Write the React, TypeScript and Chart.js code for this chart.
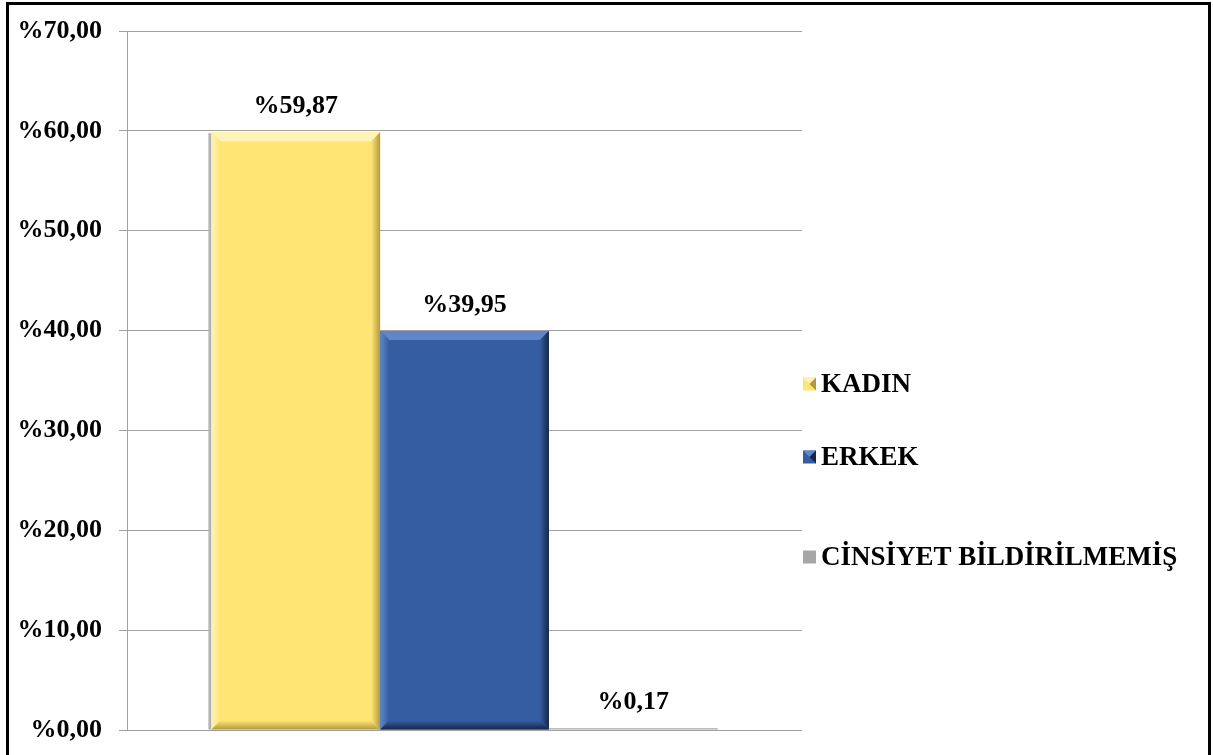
import React, { useEffect, useRef } from "react";
import { Chart, registerables } from "chart.js";

Chart.register(...registerables);

const categories = ["Cinsiyet"];
const seriesLabels = ["KADIN", "ERKEK", "CİNSİYET BİLDİRİLMEMİŞ"];
const kadinValues = [59.87];
const erkekValues = [39.95];
const bildirilmemisValues = [0.17];
const yTicks = [0, 10, 20, 30, 40, 50, 60, 70];

const baseColors = ["#FFE574", "#355EA2", "#A6A6A6"];
const lightColors = ["#FFF4B8", "#5E86C8", "#D2D2D2"];
const darkColors = ["#B29A3C", "#15264A", "#6E6E6E"];

const FONT = '"Liberation Serif", "Times New Roman", serif';

const fmt = (v: number) => "%" + v.toFixed(2).replace(".", ",");

const bevelPlugin = {
  id: "bevel",
  beforeDatasetsDraw(chart: any) {
    const ctx = chart.ctx;
    ctx.save();
    chart.data.datasets.forEach((_: any, i: number) => {
      const meta = chart.getDatasetMeta(i);
      meta.data.forEach((bar: any) => {
        const { x, y, base, width } = bar.getProps(["x", "y", "base", "width"], true);
        const l = x - width / 2;
        const h = base - y;
        if (h < 2) return;
        ctx.fillStyle = "#B4B4B4";
        ctx.fillRect(l - 3, y + 1, 4, h - 1);
      });
    });
    ctx.restore();
  },
  afterDatasetsDraw(chart: any) {
    const ctx = chart.ctx;
    ctx.save();
    chart.data.datasets.forEach((_: any, i: number) => {
      const meta = chart.getDatasetMeta(i);
      meta.data.forEach((bar: any) => {
        const { x, y, base, width } = bar.getProps(["x", "y", "base", "width"], true);
        const l = x - width / 2;
        const r = x + width / 2;
        const t = y;
        const b = base;
        const h = b - t;
        const bv = Math.min(9, h / 2, width / 2);
        if (bv < 1) return;
        ctx.fillStyle = lightColors[i];
        ctx.beginPath();
        ctx.moveTo(l, t);
        ctx.lineTo(r, t);
        ctx.lineTo(r - bv, t + bv);
        ctx.lineTo(l + bv, t + bv);
        ctx.closePath();
        ctx.fill();
        const gl = ctx.createLinearGradient(l, 0, l + bv, 0);
        gl.addColorStop(0, lightColors[i]);
        gl.addColorStop(1, baseColors[i]);
        ctx.fillStyle = gl;
        ctx.beginPath();
        ctx.moveTo(l, t);
        ctx.lineTo(l + bv, t + bv);
        ctx.lineTo(l + bv, b - bv);
        ctx.lineTo(l, b);
        ctx.closePath();
        ctx.fill();
        const gr = ctx.createLinearGradient(r - bv, 0, r, 0);
        gr.addColorStop(0, baseColors[i]);
        gr.addColorStop(1, darkColors[i]);
        ctx.fillStyle = gr;
        ctx.beginPath();
        ctx.moveTo(r, t);
        ctx.lineTo(r, b);
        ctx.lineTo(r - bv, b - bv);
        ctx.lineTo(r - bv, t + bv);
        ctx.closePath();
        ctx.fill();
        const gb = ctx.createLinearGradient(0, b - bv, 0, b);
        gb.addColorStop(0, baseColors[i]);
        gb.addColorStop(1, darkColors[i]);
        ctx.fillStyle = gb;
        ctx.beginPath();
        ctx.moveTo(l, b);
        ctx.lineTo(r, b);
        ctx.lineTo(r - bv, b - bv);
        ctx.lineTo(l + bv, b - bv);
        ctx.closePath();
        ctx.fill();
      });
    });
    ctx.restore();
  },
};

const labelPlugin = {
  id: "valueLabels",
  afterDatasetsDraw(chart: any) {
    const ctx = chart.ctx;
    ctx.save();
    ctx.font = `bold 26px ${FONT}`;
    ctx.fillStyle = "#000000";
    ctx.textAlign = "center";
    ctx.textBaseline = "middle";
    chart.data.datasets.forEach((ds: any, i: number) => {
      const meta = chart.getDatasetMeta(i);
      meta.data.forEach((bar: any, j: number) => {
        const { x, y } = bar.getProps(["x", "y"], true);
        ctx.fillText(fmt(ds.data[j]), x, y - 26);
      });
    });
    ctx.restore();
  },
};

const legendPlugin = {
  id: "sideLegend",
  afterDraw(chart: any) {
    const ctx = chart.ctx;
    const centers = [384, 457, 557];
    const mx = 803;
    const size = 13;
    ctx.save();
    ctx.font = `bold 27px ${FONT}`;
    ctx.textAlign = "left";
    ctx.textBaseline = "middle";
    chart.data.datasets.forEach((ds: any, i: number) => {
      const cy = centers[i];
      const top = cy - size / 2;
      ctx.fillStyle = baseColors[i];
      ctx.fillRect(mx, top, size, size);
      if (i < 2) {
        ctx.fillStyle = lightColors[i];
        ctx.beginPath();
        ctx.moveTo(mx, top);
        ctx.lineTo(mx + size, top);
        ctx.lineTo(mx + size / 2, cy);
        ctx.closePath();
        ctx.fill();
        ctx.fillStyle = darkColors[i];
        ctx.beginPath();
        ctx.moveTo(mx + size, top);
        ctx.lineTo(mx + size, top + size);
        ctx.lineTo(mx + size / 2, cy);
        ctx.closePath();
        ctx.fill();
      }
      ctx.fillStyle = "#000000";
      ctx.fillText(ds.label, mx + size + 5, cy + 1);
    });
    ctx.restore();
  },
};

export default function App() {
  const canvasRef = useRef<HTMLCanvasElement | null>(null);

  useEffect(() => {
    if (!canvasRef.current) return;
    const values = [kadinValues, erkekValues, bildirilmemisValues];
    const chart = new Chart(canvasRef.current, {
      type: "bar",
      data: {
        labels: categories,
        datasets: seriesLabels.map((label, i) => ({
          label,
          data: values[i],
          backgroundColor: baseColors[i],
          borderWidth: 0,
          categoryPercentage: 0.75,
          barPercentage: 1,
        })),
      },
      options: {
        animation: false,
        responsive: false,
        maintainAspectRatio: false,
        layout: { padding: { left: 0, right: 411, top: 31, bottom: 25 } },
        plugins: {
          legend: { display: false },
          tooltip: { enabled: false },
          title: { display: false },
        },
        scales: {
          x: { display: false },
          y: {
            min: yTicks[0],
            max: yTicks[yTicks.length - 1],
            afterFit: (scale: any) => {
              scale.width = 127;
              scale.paddingTop = 0;
              scale.paddingBottom = 0;
            },
            afterBuildTicks: (scale: any) => {
              scale.ticks = yTicks.map((v) => ({ value: v }));
            },
            border: { display: true, color: "#A0A0A0", width: 1 },
            grid: {
              color: "#A0A0A0",
              lineWidth: 1,
              drawTicks: true,
              tickLength: 8,
              tickColor: "#A0A0A0",
            },
            ticks: {
              padding: 17,
              color: "#000000",
              font: { family: FONT, size: 26, weight: "bold" },
              callback: (v: any) => fmt(Number(v)),
            },
          },
        },
      },
      plugins: [bevelPlugin, labelPlugin, legendPlugin],
    });
    return () => chart.destroy();
  }, []);

  return (
    <div
      style={{
        position: "fixed",
        left: 0,
        top: 0,
        width: 1213,
        height: 755,
        background: "#ffffff",
        overflow: "hidden",
      }}
    >
      <canvas
        ref={canvasRef}
        width={1213}
        height={755}
        style={{ position: "absolute", left: 0, top: 0, width: 1213, height: 755 }}
      />
      <div
        style={{
          position: "absolute",
          left: 6,
          top: 2,
          width: 1205,
          height: 800,
          border: "3px solid #000000",
          boxSizing: "border-box",
          pointerEvents: "none",
        }}
      />
    </div>
  );
}
